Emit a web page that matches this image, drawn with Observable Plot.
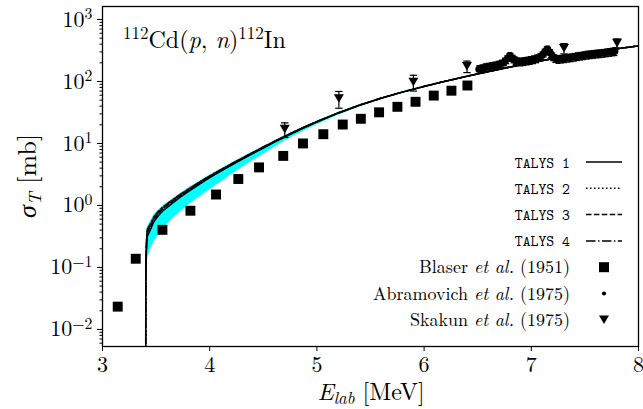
<!DOCTYPE html>
<html><head><meta charset="utf-8">
<script src="https://cdn.jsdelivr.net/npm/d3@7"></script>
<script src="https://cdn.jsdelivr.net/npm/@observablehq/plot@0.6"></script>
<style>
html,body{margin:0;padding:0;background:#fff;}
#chart{width:643px;height:409px;}
</style></head><body><div id="chart"></div>
<script>
// ---------- data ----------
const xTicks = [3, 4, 5, 6, 7, 8];
const yTicks = [0.01, 0.1, 1, 10, 100, 1000];
const minorMult = [2, 3, 4, 5, 6, 7, 8, 9];
const xDomain = [3, 8];
const yDomain = [0.0053, 1620];

const talysE = [3.403,3.4035,3.405,3.408,3.412,3.418,3.44,3.48,3.52,3.574,3.65,3.729,3.81,3.885,3.96,4.04,4.15,4.25,4.38,4.5,4.6,4.7,4.85,5.0,5.2,5.4,5.6,5.8,6.0,6.2,6.4,6.6,6.8,7.0,7.2,7.4,7.6,7.8,8.0];
const talys1 = [0.001,0.02,0.08,0.15,0.22,0.315,0.38,0.55,0.68,0.85,1.08,1.37,1.72,2.09,2.54,3.08,3.96,4.95,6.56,8.45,10.4,12.7,16.9,22.1,30.8,41.3,53.5,67.3,82.8,100.5,120.8,143.9,170.2,200,232.8,267.3,302,337,374];
const talys2 = [0.001,0.028,0.11,0.2,0.29,0.39,0.46,0.64,0.78,0.96,1.2,1.5,1.86,2.24,2.7,3.25,4.14,5.16,6.8,8.7,10.7,13.0,17.3,22.5,31.2,41.7,53.9,67.8,83.4,101.2,121.6,144.8,171.2,201,233.8,268.3,302.8,337.8,374.8];
const talys3 = [0.001,0.025,0.1,0.18,0.26,0.36,0.43,0.6,0.74,0.92,1.16,1.45,1.8,2.18,2.64,3.18,4.08,5.08,6.7,8.6,10.6,12.9,17.2,22.4,31.1,41.6,53.8,67.6,83.2,101,121.4,144.6,171,200.8,233.6,268,302.6,337.6,374.6];
const talys4 = [0.001,0.03,0.12,0.22,0.31,0.41,0.48,0.66,0.8,0.98,1.22,1.52,1.88,2.27,2.73,3.28,4.18,5.2,6.84,8.76,10.75,13.1,17.4,22.6,31.3,41.8,54,67.9,83.5,101.3,121.7,144.9,171.3,201.2,234,268.5,303,338,375];
const bandLo = [0.03,0.034,0.05,0.075,0.1,0.13,0.18,0.26,0.33,0.43,0.6,0.8,1.05,1.3,1.6,2.0,2.7,3.6,5.0,6.7,8.5,11.0,15.0,20.0,28.5,39,51,65,80,98,118.5,141.5,168,198,230.5,265,300,335,372];
const bandHi = [0.03,0.04,0.14,0.25,0.35,0.45,0.52,0.7,0.84,1.02,1.26,1.57,1.94,2.33,2.8,3.36,4.27,5.3,6.95,8.9,10.9,13.3,17.6,22.8,31.5,42,54.3,68.2,83.8,101.6,122,145.3,171.7,201.6,234.5,269,303.5,338.5,375.5];

const blaserE = [3.142,3.31,3.559,3.82,4.059,4.267,4.46,4.686,4.87,5.06,5.241,5.41,5.58,5.751,5.92,6.09,6.255,6.404];
const blaserS = [0.0233,0.138,0.404,0.822,1.50,2.67,4.11,6.3,10.0,14.1,20.2,25.0,31.8,39.0,47.0,59.2,71.0,86.1];

const abramE = [6.51,6.54,6.57,6.60,6.63,6.66,6.69,6.72,6.75,6.77,6.79,6.80,6.81,6.83,6.85,6.87,6.90,6.93,6.96,6.99,7.02,7.05,7.08,7.10,7.12,7.14,7.15,7.16,7.18,7.20,7.22,7.25,7.28,7.31,7.34,7.37,7.40,7.43,7.46,7.49,7.52,7.55,7.58,7.61,7.64,7.67,7.70,7.73,7.76,7.78];
const abramS = [157,162,168,172,176,180,185,193,208,226,245,255,248,232,218,210,208,211,215,220,226,234,246,262,290,318,325,312,285,252,236,228,231,235,239,243,248,254,258,263,268,272,276,280,283,287,292,297,302,306];
const abramErr = [22,23,24,24,25,25,26,27,29,32,34,36,35,32,31,29,29,30,30,31,32,33,34,37,41,45,46,44,40,35,33,32,32,33,33,34,35,36,36,37,38,38,39,39,40,40,41,42,42,43];

const skakunE = [4.70, 5.205, 5.90, 6.40, 7.305, 7.80];
const skakunS = [17, 53, 98, 176, 344, 415];
const skakunErr = [4.5, 16, 28, 37, 65, 70];

const talysNames = ["TALYS 1", "TALYS 2", "TALYS 3", "TALYS 4"];
const refAuthors = ["Blaser", "Abramovich", "Skakun"];
const refYears = ["(1951)", "(1975)", "(1975)"];

// ---------- tables ----------
const talysSets = [talys1, talys2, talys3, talys4];
const dashes = [null, "1.5,2.5", "5.5,2.4", "9.6,2.4,1.5,2.4"];
const band = talysE.map((E, i) => ({E, lo: bandLo[i], hi: bandHi[i]}));
const blaser = blaserE.map((E, i) => ({E, s: blaserS[i]}));
const abram = abramE.map((E, i) => ({E, s: abramS[i], lo: abramS[i] - abramErr[i], hi: abramS[i] + abramErr[i]}));
const skakun = skakunE.map((E, i) => ({E, s: skakunS[i], lo: skakunS[i] - skakunErr[i], hi: skakunS[i] + skakunErr[i]}));

const minorTicks = [];
for (const t of [0.001, ...yTicks]) for (const m of minorMult) {
  const v = t * m;
  if (v >= yDomain[0] && v <= yDomain[1]) minorTicks.push(v);
}

const serif = "'Latin Modern Roman','CMU Serif','Liberation Serif',serif";
const mono = "'Latin Modern Mono','CMU Typewriter Text','Liberation Mono',monospace";

const capSym = {draw(ctx) { ctx.moveTo(-3.7, 0); ctx.lineTo(3.7, 0); }};
const smallCap = {draw(ctx) { ctx.moveTo(-2.5, 0); ctx.lineTo(2.5, 0); }};
const triDown = {draw(ctx) { ctx.moveTo(-5, -4.3); ctx.lineTo(5, -4.3); ctx.lineTo(0, 4.3); ctx.closePath(); }};

const expFmt = d => { const e = Math.round(Math.log10(d)); return e < 0 ? "\u2212" + (-e) : String(e); };

const plot = Plot.plot({
  width: 643, height: 409,
  marginLeft: 102, marginRight: 5, marginTop: 6, marginBottom: 63,
  style: {fontFamily: serif, background: "white", color: "black"},
  x: {domain: xDomain},
  y: {type: "log", domain: yDomain},
  marks: [
    Plot.areaY(band, {x: "E", y1: "lo", y2: "hi", fill: "#00ffff", clip: true}),
    ...talysSets.map((arr, k) => Plot.line(talysE.map((E, i) => ({E, s: arr[i]})), {
      x: "E", y: "s", stroke: "black", strokeWidth: 1.5, strokeDasharray: dashes[k], clip: true
    })),
    Plot.dot(blaser, {x: "E", y: "s", symbol: "square", r: 5.6, fill: "black", stroke: "none"}),
    Plot.ruleX(abram, {x: "E", y1: "lo", y2: "hi", stroke: "black", strokeWidth: 1.6}),
    Plot.dot(abram, {x: "E", y: "hi", symbol: smallCap, fill: "none", stroke: "black", strokeWidth: 1.3}),
    Plot.dot(abram, {x: "E", y: "lo", symbol: smallCap, fill: "none", stroke: "black", strokeWidth: 1.3}),
    Plot.dot(abram, {x: "E", y: "s", r: 3.5, fill: "black", stroke: "none"}),
    Plot.ruleX(skakun, {x: "E", y1: "lo", y2: "hi", stroke: "black", strokeWidth: 1.2}),
    Plot.dot(skakun, {x: "E", y: "hi", symbol: capSym, fill: "none", stroke: "black", strokeWidth: 1.2}),
    Plot.dot(skakun, {x: "E", y: "lo", symbol: capSym, fill: "none", stroke: "black", strokeWidth: 1.2}),
    Plot.dot(skakun, {x: "E", y: "s", symbol: triDown, fill: "black", stroke: "none"}),
    Plot.frame({stroke: "black", strokeWidth: 1.3}),
    Plot.axisX({ticks: xTicks, tickSize: 5, tickPadding: 5, fontSize: 22, label: null, tickFormat: d => String(d)}),
    Plot.axisY({ticks: yTicks, tickSize: 5, tickPadding: 5, fontSize: 22, label: null, tickFormat: expFmt}),
    Plot.axisY({ticks: minorTicks, tickSize: 2.5, label: null, tickFormat: () => ""})
  ]
});

document.getElementById("chart").append(plot);
const svg = d3.select(plot);

// superscript exponent tick labels
svg.selectAll('g[aria-label="y-axis tick label"] text').each(function() {
  const t = d3.select(this);
  const e = t.text();
  if (!e) return;
  t.text("");
  t.append("tspan").text("10");
  t.append("tspan").attr("dy", "-0.5em").attr("font-size", "0.72em").text(e);
});

// title
const title = svg.append("text").attr("x", 123).attr("y", 48).attr("font-size", 24)
  .attr("font-family", serif).attr("text-anchor", "start").attr("fill", "black");
title.append("tspan").attr("font-size", 17).attr("dy", -9).text("112");
title.append("tspan").attr("dy", 9).text("Cd(");
title.append("tspan").attr("font-style", "italic").text("p");
title.append("tspan").text(", ");
title.append("tspan").attr("font-style", "italic").text("n");
title.append("tspan").text(")");
title.append("tspan").attr("font-size", 17).attr("dy", -9).text("112");
title.append("tspan").attr("dy", 9).text("In");

// x label
const xl = svg.append("text").attr("x", 371).attr("y", 400).attr("font-size", 24)
  .attr("font-family", serif).attr("text-anchor", "middle").attr("fill", "black");
xl.append("tspan").attr("font-style", "italic").text("E");
xl.append("tspan").attr("font-style", "italic").attr("font-size", 17).attr("dy", 3.5).text("lab");
xl.append("tspan").attr("dy", -3.5).text(" [MeV]");

// y label
const yl = svg.append("text").attr("transform", "translate(36,176) rotate(-90)").attr("font-size", 26)
  .attr("font-family", serif).attr("text-anchor", "middle").attr("fill", "black");
yl.append("tspan").attr("font-style", "italic").text("σ");
yl.append("tspan").attr("font-style", "italic").attr("font-size", 18).attr("dy", 5).text("T");
yl.append("tspan").attr("dy", -5).text(" [mb]");

// legend
const lg = svg.append("g").attr("font-size", 18).attr("fill", "black");
const rowY = k => 162 + 26.3 * k;
const textX = 570, sx0 = 586, sx1 = 622, sxc = 604;
talysNames.forEach((name, k) => {
  lg.append("text").attr("x", textX).attr("y", rowY(k) + 5.5).attr("text-anchor", "end")
    .attr("font-family", mono).attr("font-size", 15).text(name);
  lg.append("line").attr("x1", sx0).attr("x2", sx1).attr("y1", rowY(k)).attr("y2", rowY(k))
    .attr("stroke", "black").attr("stroke-width", 1.5).attr("stroke-dasharray", dashes[k]);
});
refAuthors.forEach((a, j) => {
  const k = j + 4;
  const t = lg.append("text").attr("x", textX).attr("y", rowY(k) + 6).attr("text-anchor", "end")
    .attr("font-family", serif);
  t.append("tspan").text(a + " ");
  t.append("tspan").attr("font-style", "italic").text("et al.");
  t.append("tspan").text(" " + refYears[j]);
});
lg.append("rect").attr("x", sxc - 5).attr("y", rowY(4) - 5).attr("width", 10).attr("height", 10).attr("fill", "black");
lg.append("circle").attr("cx", sxc).attr("cy", rowY(5)).attr("r", 2.1).attr("fill", "black");
lg.append("path").attr("transform", `translate(${sxc},${rowY(6)})`).attr("d", "M-5,-4.3L5,-4.3L0,4.3Z").attr("fill", "black");
</script>
</body></html>
